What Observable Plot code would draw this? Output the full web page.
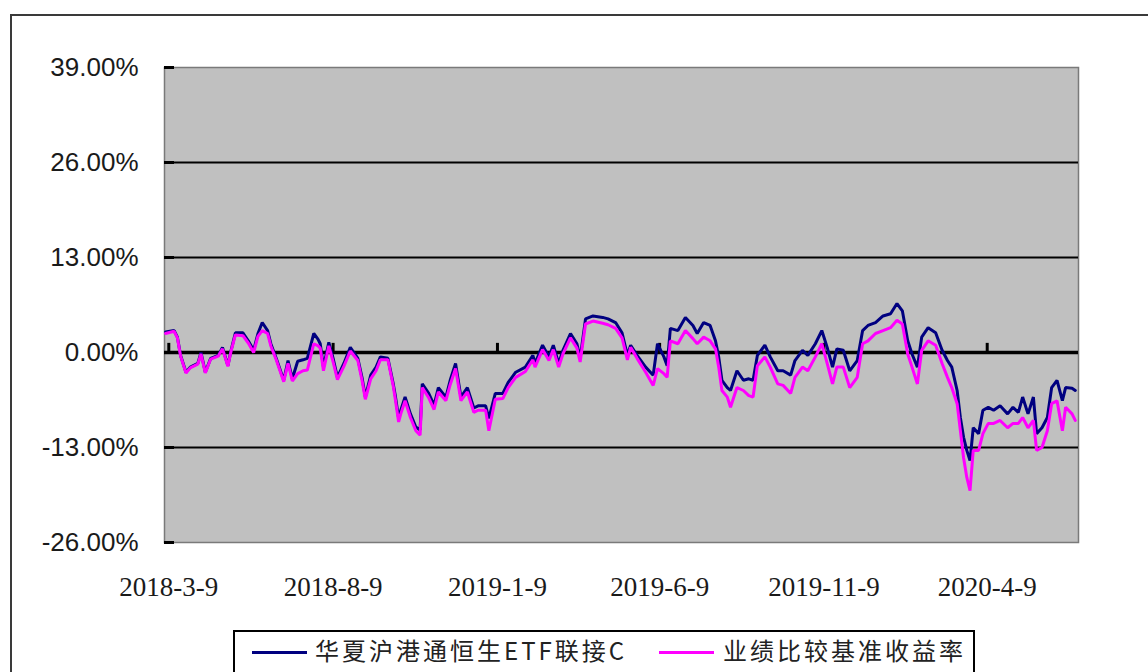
<!DOCTYPE html>
<html><head><meta charset="utf-8">
<script src="https://cdn.jsdelivr.net/npm/d3@7"></script>
<script src="https://cdn.jsdelivr.net/npm/@observablehq/plot@0.6"></script>
<style>
html,body{margin:0;padding:0;background:#fff;overflow:hidden;}
#wrap{position:relative;width:1148px;height:672px;overflow:hidden;background:#fff;}
#border{position:absolute;left:10px;top:14px;width:1200px;height:700px;border:2px solid #3a3a3a;}
#chart{position:absolute;left:0;top:0;}
#legend{position:absolute;left:233px;top:630px;width:738px;height:60px;border:2px solid #000;background:#fff;font-family:"Noto Sans CJK SC";font-size:24px;color:#222;}
.sw{position:absolute;top:19px;width:55px;height:3px;}
.lb{position:absolute;top:2px;letter-spacing:3px;line-height:32px;white-space:nowrap;}
</style></head>
<body>
<div id="wrap">
  <div id="border"></div>
  <div id="chart"></div>
  <div id="legend"></div>
</div>
<script>
const seriesNames = ["华夏沪港通恒生ETF联接C", "业绩比较基准收益率"];
const seriesColors = ["#000080", "#FF00FF"];
const yTicks = [-26, -13, 0, 13, 26, 39];
const xTickLabels = ["2018-3-9", "2018-8-9", "2019-1-9", "2019-6-9", "2019-11-9", "2020-4-9"];
const xDomain = ["2018-03-05", "2020-07-03"];

const dates = [
"2018-03-06","2018-03-14","2018-03-17","2018-03-20","2018-03-25","2018-03-29","2018-04-05","2018-04-08","2018-04-12","2018-04-17",
"2018-04-24","2018-04-28","2018-05-03","2018-05-06","2018-05-10","2018-05-17","2018-05-22","2018-05-27","2018-05-31","2018-06-04",
"2018-06-09","2018-06-12","2018-06-17","2018-06-24","2018-06-28","2018-07-02","2018-07-07","2018-07-12","2018-07-16","2018-07-22",
"2018-07-26","2018-07-28","2018-07-31","2018-08-05","2018-08-09","2018-08-13","2018-08-19","2018-08-25","2018-09-01","2018-09-05",
"2018-09-08","2018-09-13","2018-09-18","2018-09-22","2018-09-29","2018-10-04","2018-10-06","2018-10-09","2018-10-11","2018-10-15",
"2018-10-20","2018-10-25","2018-10-29","2018-10-31","2018-11-06","2018-11-11","2018-11-15","2018-11-22","2018-11-26","2018-12-01",
"2018-12-06","2018-12-12","2018-12-18","2018-12-22","2018-12-29","2019-01-01","2019-01-07","2019-01-14","2019-01-19","2019-01-26",
"2019-02-04","2019-02-11","2019-02-13","2019-02-20","2019-02-26","2019-03-02","2019-03-07","2019-03-11","2019-03-18","2019-03-24",
"2019-03-27","2019-04-01","2019-04-08","2019-04-17","2019-04-22","2019-04-29","2019-05-05","2019-05-10","2019-05-13","2019-05-19",
"2019-05-27","2019-06-03","2019-06-07","2019-06-13","2019-06-16","2019-06-19","2019-06-26","2019-07-03","2019-07-10","2019-07-14",
"2019-07-20","2019-07-26","2019-07-31","2019-08-03","2019-08-06","2019-08-11","2019-08-14","2019-08-20","2019-08-26","2019-08-31",
"2019-09-04","2019-09-08","2019-09-15","2019-09-20","2019-09-27","2019-10-02","2019-10-09","2019-10-13","2019-10-20","2019-10-25",
"2019-11-01","2019-11-07","2019-11-12","2019-11-17","2019-11-21","2019-11-27","2019-12-03","2019-12-10","2019-12-15","2019-12-20",
"2019-12-27","2020-01-03","2020-01-10","2020-01-16","2020-01-21","2020-01-26","2020-01-30","2020-02-04","2020-02-08","2020-02-14",
"2020-02-21","2020-02-27","2020-03-03","2020-03-07","2020-03-12","2020-03-15","2020-03-18","2020-03-21","2020-03-24","2020-03-27",
"2020-04-01","2020-04-05","2020-04-10","2020-04-15","2020-04-21","2020-04-28","2020-05-03","2020-05-08","2020-05-12","2020-05-17",
"2020-05-22","2020-05-25","2020-05-30","2020-06-04","2020-06-08","2020-06-13","2020-06-18","2020-06-21","2020-06-27","2020-06-30"
];

const fundValues = [
2.8,3.0,2.1,-0.4,-2.7,-2.0,-1.5,0.0,-2.7,-0.8,
-0.4,0.7,-1.8,0.3,2.7,2.7,1.6,0.3,2.6,4.1,
3.0,1.2,-0.8,-3.8,-1.1,-3.6,-1.2,-1.0,-0.8,2.6,
1.8,1.2,-2.0,1.4,-0.8,-3.4,-1.5,0.7,-0.8,-3.5,
-6.1,-3.1,-2.0,-0.6,-0.8,-4.3,-6.0,-9.0,-7.9,-6.1,
-8.4,-10.2,-10.6,-4.3,-5.6,-7.2,-4.8,-6.1,-3.8,-1.5,
-6.1,-4.8,-7.6,-7.3,-7.3,-9.0,-5.6,-5.6,-4.1,-2.7,
-2.0,-0.4,-1.5,1.0,-0.6,1.0,-1.5,0.3,2.6,1.2,
-0.8,4.6,5.0,4.8,4.6,4.1,2.7,-0.4,1.0,-0.4,
-2.0,-3.1,1.2,-0.6,-1.8,3.3,3.0,4.8,3.7,2.6,
4.1,3.7,1.6,-0.6,-3.8,-4.8,-5.2,-2.5,-3.8,-3.6,
-3.8,-0.4,1.0,-0.6,-2.5,-2.5,-3.1,-1.1,0.3,-0.4,
1.2,3.0,0.7,-2.0,0.5,0.3,-2.5,-1.1,3.0,3.7,
4.1,5.0,5.3,6.7,5.7,1.6,-0.2,-2.0,2.1,3.4,
2.7,0.3,-1.1,-2.0,-5.2,-8.9,-11.6,-13.4,-14.8,-10.3,
-11.1,-7.9,-7.5,-7.9,-7.3,-8.4,-7.5,-8.2,-6.1,-8.4,
-6.1,-11.1,-10.3,-8.9,-4.8,-3.8,-6.6,-4.8,-4.9,-5.2
];

const benchValues = [
2.6,2.9,2.0,-0.5,-2.8,-2.1,-1.6,-0.2,-2.8,-0.9,
-0.5,0.5,-1.9,0.2,2.4,2.3,1.3,0.0,2.2,3.0,
2.6,0.9,-1.0,-4.0,-1.5,-3.9,-2.9,-2.5,-2.4,1.2,
0.9,0.6,-2.5,0.9,-1.3,-3.7,-1.9,0.2,-1.1,-3.9,
-6.4,-3.6,-2.5,-1.0,-1.0,-4.6,-6.5,-9.5,-8.4,-6.6,
-8.9,-10.7,-11.3,-4.8,-6.2,-7.8,-5.4,-6.6,-4.4,-2.2,
-6.6,-5.4,-8.2,-7.9,-7.9,-10.7,-6.4,-6.3,-4.8,-3.4,
-2.6,-1.0,-2.0,0.4,-1.1,0.4,-2.0,-0.2,2.0,0.6,
-1.3,3.9,4.3,4.0,3.8,3.3,2.0,-1.0,0.7,-0.8,
-2.7,-4.5,-2.2,-2.9,-3.4,1.6,1.2,3.0,1.9,1.2,
2.1,1.6,0.5,-2.0,-5.2,-6.1,-7.5,-4.8,-5.2,-5.9,
-6.1,-1.8,-0.6,-2.0,-4.3,-4.5,-5.6,-3.4,-2.0,-2.5,
-0.6,1.2,-1.5,-4.3,-2.0,-2.0,-4.8,-3.4,1.2,1.6,
2.6,3.0,3.4,4.4,3.9,-0.2,-2.0,-4.3,0.3,1.6,
1.0,-1.5,-3.4,-4.8,-7.0,-10.7,-14.4,-17.1,-18.9,-13.4,
-13.4,-11.1,-9.7,-9.7,-9.3,-10.3,-9.7,-9.7,-8.9,-10.3,
-9.3,-13.4,-13.0,-10.7,-7.0,-6.6,-10.7,-7.5,-8.4,-9.3
];

const parse = d3.utcParse("%Y-%m-%d");
const parseTick = d3.utcParse("%Y-%-m-%-d");
const rows = [];
dates.forEach((d, i) => {
  rows.push({date: parse(d), value: fundValues[i], series: seriesNames[0]});
});
dates.forEach((d, i) => {
  rows.push({date: parse(d), value: benchValues[i], series: seriesNames[1]});
});
const xTicks = xTickLabels.map(s => parseTick(s));
const tickLabelOf = new Map(xTicks.map((t, i) => [+t, xTickLabels[i]]));

const chart = Plot.plot({
  width: 1148,
  height: 620,
  marginLeft: 164,
  marginRight: 70,
  marginTop: 67,
  marginBottom: 78,
  style: {background: "transparent", overflow: "visible"},
  x: {type: "utc", domain: xDomain.map(parse), label: null},
  y: {domain: [-26, 39], label: null},
  color: {domain: seriesNames, range: seriesColors},
  marks: [
    Plot.frame({fill: "#C0C0C0", stroke: "#7a7a7a", strokeWidth: 1.5}),
    Plot.ruleY(yTicks.filter(v => v !== 0 && v !== 39 && v !== -26), {stroke: "#000", strokeWidth: 2}),
    Plot.ruleY([0], {stroke: "#000", strokeWidth: 3.5}),
    Plot.ruleX(xTicks, {x: d => d, y1: 0, y2: 1.25, stroke: "#000", strokeWidth: 3}),
    Plot.lineY(rows.filter(r => r.series === seriesNames[0]), {x: "date", y: "value", stroke: "series", strokeWidth: 3, strokeLinejoin: "miter"}),
    Plot.lineY(rows.filter(r => r.series === seriesNames[1]), {x: "date", y: "value", stroke: "series", strokeWidth: 3, strokeLinejoin: "miter"}),
    Plot.axisY({ticks: yTicks, tickSize: 0, tickPadding: 26, line: true, stroke: "#000", strokeWidth: 3.5, label: null,
      tickFormat: d => d.toFixed(2) + "%", fontSize: 26, fontFamily: "Liberation Sans, Arial, sans-serif", fill: "#1a1a1a"}),
    Plot.axisY({ticks: yTicks, tickSize: -10, text: null, label: null, stroke: "#000", strokeWidth: 3}),
    Plot.axisX({ticks: xTicks, tickSize: 0, tickPadding: 34, label: null, tickFormat: d => tickLabelOf.get(+d),
      fontSize: 27, fontFamily: "Liberation Serif, Times New Roman, serif", fill: "#1a1a1a"})
  ]
});
document.getElementById("chart").appendChild(chart);

const legend = document.getElementById("legend");
const legendLayout = [{sw: 17, lb: 80}, {sw: 424, lb: 488}];
seriesNames.forEach((name, i) => {
  const sw = document.createElement("div");
  sw.className = "sw";
  sw.style.left = legendLayout[i].sw + "px";
  sw.style.background = seriesColors[i];
  legend.appendChild(sw);
  const lb = document.createElement("div");
  lb.className = "lb";
  lb.style.left = legendLayout[i].lb + "px";
  lb.textContent = name;
  legend.appendChild(lb);
});
</script>
</body></html>
